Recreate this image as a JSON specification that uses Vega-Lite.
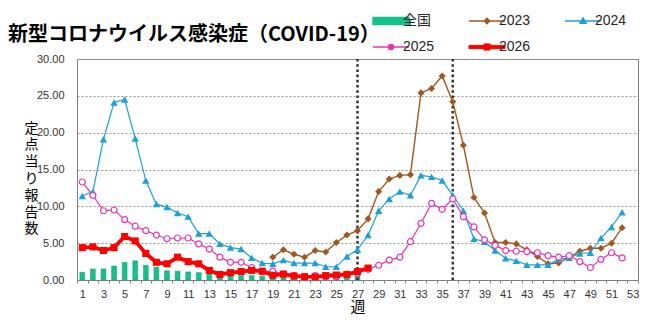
{
  "$schema": "https://vega.github.io/schema/vega-lite/v6.json",
  "width": 561,
  "height": 221,
  "autosize": {"type": "none"},
  "padding": {"left": 77, "top": 59, "right": 12, "bottom": 41},
  "background": "white",
  "title": {
    "text": "新型コロナウイルス感染症（COVID-19）",
    "anchor": "start",
    "frame": "group",
    "dx": -69,
    "dy": 41,
    "offset": 10,
    "font": "Noto Sans CJK JP",
    "fontSize": 20,
    "fontWeight": "bold",
    "color": "#000000"
  },
  "datasets": {
    "weekly": [
      {"week": 1, "series": "全国", "value": 1.05}, {"week": 2, "series": "全国", "value": 1.5}, {"week": 3, "series": "全国", "value": 1.5},
      {"week": 4, "series": "全国", "value": 1.9}, {"week": 5, "series": "全国", "value": 2.4}, {"week": 6, "series": "全国", "value": 2.6},
      {"week": 7, "series": "全国", "value": 2.0}, {"week": 8, "series": "全国", "value": 1.75}, {"week": 9, "series": "全国", "value": 1.25},
      {"week": 10, "series": "全国", "value": 1.2}, {"week": 11, "series": "全国", "value": 1.1}, {"week": 12, "series": "全国", "value": 1.0},
      {"week": 13, "series": "全国", "value": 0.82}, {"week": 14, "series": "全国", "value": 0.55}, {"week": 15, "series": "全国", "value": 0.55},
      {"week": 16, "series": "全国", "value": 0.62}, {"week": 17, "series": "全国", "value": 0.62}, {"week": 18, "series": "全国", "value": 0.5},
      {"week": 19, "series": "全国", "value": 0.32}, {"week": 20, "series": "全国", "value": 0.32}, {"week": 21, "series": "全国", "value": 0.25},
      {"week": 22, "series": "全国", "value": 0.2}, {"week": 23, "series": "全国", "value": 0.2}, {"week": 24, "series": "全国", "value": 0.25},
      {"week": 25, "series": "全国", "value": 0.3}, {"week": 26, "series": "全国", "value": 0.42}, {"week": 27, "series": "全国", "value": 0.52},

      {"week": 19, "series": "2023", "value": 3.1}, {"week": 20, "series": "2023", "value": 4.1}, {"week": 21, "series": "2023", "value": 3.5},
      {"week": 22, "series": "2023", "value": 3.1}, {"week": 23, "series": "2023", "value": 4.0}, {"week": 24, "series": "2023", "value": 3.8},
      {"week": 25, "series": "2023", "value": 5.1}, {"week": 26, "series": "2023", "value": 6.1}, {"week": 27, "series": "2023", "value": 6.7},
      {"week": 28, "series": "2023", "value": 8.3}, {"week": 29, "series": "2023", "value": 12.0}, {"week": 30, "series": "2023", "value": 13.7},
      {"week": 31, "series": "2023", "value": 14.2}, {"week": 32, "series": "2023", "value": 14.3}, {"week": 33, "series": "2023", "value": 25.4},
      {"week": 34, "series": "2023", "value": 26.0}, {"week": 35, "series": "2023", "value": 27.7}, {"week": 36, "series": "2023", "value": 24.2},
      {"week": 37, "series": "2023", "value": 18.3}, {"week": 38, "series": "2023", "value": 11.2}, {"week": 39, "series": "2023", "value": 9.1},
      {"week": 40, "series": "2023", "value": 5.1}, {"week": 41, "series": "2023", "value": 5.1}, {"week": 42, "series": "2023", "value": 4.9},
      {"week": 43, "series": "2023", "value": 4.1}, {"week": 44, "series": "2023", "value": 3.2}, {"week": 45, "series": "2023", "value": 2.2},
      {"week": 46, "series": "2023", "value": 2.3}, {"week": 47, "series": "2023", "value": 3.1}, {"week": 48, "series": "2023", "value": 3.9},
      {"week": 49, "series": "2023", "value": 4.3}, {"week": 50, "series": "2023", "value": 4.3}, {"week": 51, "series": "2023", "value": 5.0},
      {"week": 52, "series": "2023", "value": 7.1},

      {"week": 1, "series": "2024", "value": 11.4}, {"week": 2, "series": "2024", "value": 12.0}, {"week": 3, "series": "2024", "value": 19.1},
      {"week": 4, "series": "2024", "value": 24.1}, {"week": 5, "series": "2024", "value": 24.5}, {"week": 6, "series": "2024", "value": 19.2},
      {"week": 7, "series": "2024", "value": 13.5}, {"week": 8, "series": "2024", "value": 10.3}, {"week": 9, "series": "2024", "value": 9.9},
      {"week": 10, "series": "2024", "value": 9.1}, {"week": 11, "series": "2024", "value": 8.6}, {"week": 12, "series": "2024", "value": 6.3},
      {"week": 13, "series": "2024", "value": 6.3}, {"week": 14, "series": "2024", "value": 4.9}, {"week": 15, "series": "2024", "value": 4.4},
      {"week": 16, "series": "2024", "value": 4.2}, {"week": 17, "series": "2024", "value": 3.0}, {"week": 18, "series": "2024", "value": 2.3},
      {"week": 19, "series": "2024", "value": 2.2}, {"week": 20, "series": "2024", "value": 2.7}, {"week": 21, "series": "2024", "value": 2.3},
      {"week": 22, "series": "2024", "value": 2.3}, {"week": 23, "series": "2024", "value": 2.3}, {"week": 24, "series": "2024", "value": 1.8},
      {"week": 25, "series": "2024", "value": 1.8}, {"week": 26, "series": "2024", "value": 3.2}, {"week": 27, "series": "2024", "value": 4.1},
      {"week": 28, "series": "2024", "value": 6.1}, {"week": 29, "series": "2024", "value": 9.4}, {"week": 30, "series": "2024", "value": 11.0},
      {"week": 31, "series": "2024", "value": 12.0}, {"week": 32, "series": "2024", "value": 11.5}, {"week": 33, "series": "2024", "value": 14.2},
      {"week": 34, "series": "2024", "value": 14.0}, {"week": 35, "series": "2024", "value": 13.5}, {"week": 36, "series": "2024", "value": 11.5},
      {"week": 37, "series": "2024", "value": 9.4}, {"week": 38, "series": "2024", "value": 5.6}, {"week": 39, "series": "2024", "value": 5.2},
      {"week": 40, "series": "2024", "value": 4.0}, {"week": 41, "series": "2024", "value": 2.95}, {"week": 42, "series": "2024", "value": 2.6},
      {"week": 43, "series": "2024", "value": 2.05}, {"week": 44, "series": "2024", "value": 2.05}, {"week": 45, "series": "2024", "value": 2.05},
      {"week": 46, "series": "2024", "value": 2.8}, {"week": 47, "series": "2024", "value": 3.0}, {"week": 48, "series": "2024", "value": 3.6},
      {"week": 49, "series": "2024", "value": 3.7}, {"week": 50, "series": "2024", "value": 5.7}, {"week": 51, "series": "2024", "value": 7.2},
      {"week": 52, "series": "2024", "value": 9.2},

      {"week": 1, "series": "2025", "value": 13.3}, {"week": 2, "series": "2025", "value": 11.5}, {"week": 3, "series": "2025", "value": 9.4},
      {"week": 4, "series": "2025", "value": 9.5}, {"week": 5, "series": "2025", "value": 8.2}, {"week": 6, "series": "2025", "value": 7.3},
      {"week": 7, "series": "2025", "value": 6.7}, {"week": 8, "series": "2025", "value": 6.1}, {"week": 9, "series": "2025", "value": 5.6},
      {"week": 10, "series": "2025", "value": 5.7}, {"week": 11, "series": "2025", "value": 5.7}, {"week": 12, "series": "2025", "value": 4.9},
      {"week": 13, "series": "2025", "value": 4.2}, {"week": 14, "series": "2025", "value": 3.1}, {"week": 15, "series": "2025", "value": 2.4},
      {"week": 16, "series": "2025", "value": 2.4}, {"week": 17, "series": "2025", "value": 1.7}, {"week": 18, "series": "2025", "value": 1.1},
      {"week": 19, "series": "2025", "value": 1.2}, {"week": 20, "series": "2025", "value": 0.8}, {"week": 21, "series": "2025", "value": 0.6},
      {"week": 22, "series": "2025", "value": 0.4}, {"week": 23, "series": "2025", "value": 0.6}, {"week": 24, "series": "2025", "value": 0.45},
      {"week": 25, "series": "2025", "value": 0.45}, {"week": 26, "series": "2025", "value": 0.7}, {"week": 27, "series": "2025", "value": 0.9},
      {"week": 28, "series": "2025", "value": 1.45}, {"week": 29, "series": "2025", "value": 2.0}, {"week": 30, "series": "2025", "value": 2.7},
      {"week": 31, "series": "2025", "value": 3.1}, {"week": 32, "series": "2025", "value": 5.2}, {"week": 33, "series": "2025", "value": 7.7},
      {"week": 34, "series": "2025", "value": 10.4}, {"week": 35, "series": "2025", "value": 9.6}, {"week": 36, "series": "2025", "value": 11.0},
      {"week": 37, "series": "2025", "value": 8.6}, {"week": 38, "series": "2025", "value": 7.2}, {"week": 39, "series": "2025", "value": 5.45},
      {"week": 40, "series": "2025", "value": 4.7}, {"week": 41, "series": "2025", "value": 4.0}, {"week": 42, "series": "2025", "value": 3.9},
      {"week": 43, "series": "2025", "value": 3.85}, {"week": 44, "series": "2025", "value": 3.7}, {"week": 45, "series": "2025", "value": 3.3},
      {"week": 46, "series": "2025", "value": 3.1}, {"week": 47, "series": "2025", "value": 3.3}, {"week": 48, "series": "2025", "value": 2.5},
      {"week": 49, "series": "2025", "value": 1.7}, {"week": 50, "series": "2025", "value": 2.8}, {"week": 51, "series": "2025", "value": 3.7},
      {"week": 52, "series": "2025", "value": 3.0},

      {"week": 1, "series": "2026", "value": 4.4}, {"week": 2, "series": "2026", "value": 4.5}, {"week": 3, "series": "2026", "value": 4.0},
      {"week": 4, "series": "2026", "value": 4.4}, {"week": 5, "series": "2026", "value": 5.9}, {"week": 6, "series": "2026", "value": 5.3},
      {"week": 7, "series": "2026", "value": 3.6}, {"week": 8, "series": "2026", "value": 2.4}, {"week": 9, "series": "2026", "value": 2.2},
      {"week": 10, "series": "2026", "value": 3.1}, {"week": 11, "series": "2026", "value": 2.5}, {"week": 12, "series": "2026", "value": 2.2},
      {"week": 13, "series": "2026", "value": 1.3}, {"week": 14, "series": "2026", "value": 0.75}, {"week": 15, "series": "2026", "value": 1.0},
      {"week": 16, "series": "2026", "value": 1.15}, {"week": 17, "series": "2026", "value": 1.3}, {"week": 18, "series": "2026", "value": 1.2},
      {"week": 19, "series": "2026", "value": 0.65}, {"week": 20, "series": "2026", "value": 0.8}, {"week": 21, "series": "2026", "value": 0.55},
      {"week": 22, "series": "2026", "value": 0.45}, {"week": 23, "series": "2026", "value": 0.42}, {"week": 24, "series": "2026", "value": 0.6},
      {"week": 25, "series": "2026", "value": 0.68}, {"week": 26, "series": "2026", "value": 0.75}, {"week": 27, "series": "2026", "value": 1.15},
      {"week": 28, "series": "2026", "value": 1.62}
    ],
    "season_marks": [{"week": 27}, {"week": 36}]
  },
  "encoding": {
    "x": {
      "field": "week",
      "type": "ordinal",
      "scale": {
        "type": "band",
        "domain": [1, 2, 3, 4, 5, 6, 7, 8, 9, 10, 11, 12, 13, 14, 15, 16, 17, 18, 19, 20, 21, 22, 23, 24, 25, 26, 27,
                   28, 29, 30, 31, 32, 33, 34, 35, 36, 37, 38, 39, 40, 41, 42, 43, 44, 45, 46, 47, 48, 49, 50, 51, 52, 53],
        "paddingInner": 0,
        "paddingOuter": 0
      },
      "axis": {
        "title": "週",
        "titleFont": "Noto Sans CJK JP",
        "titleFontSize": 15,
        "titleFontWeight": "normal",
        "titleColor": "#000000",
        "titlePadding": 0,
        "labelAngle": 0,
        "labelExpr": "datum.value % 2 === 1 ? datum.label : ''",
        "labelOverlap": false,
        "labelFont": "Liberation Sans",
        "labelFontSize": 11,
        "labelColor": "#333333",
        "labelPadding": 5,
        "domainColor": "#808080",
        "tickColor": "#808080",
        "tickSize": 3,
        "tickBand": "extent",
        "grid": false
      }
    },
    "y": {
      "field": "value",
      "type": "quantitative",
      "scale": {"domain": [0, 30], "nice": false, "zero": true},
      "axis": {
        "values": [0, 5, 10, 15, 20, 25, 30],
        "format": ".2f",
        "title": ["定", "点", "当", "り", "報", "告", "数"],
        "titleAngle": 0,
        "titleFont": "Noto Sans CJK JP",
        "titleFontSize": 14,
        "titleFontWeight": "normal",
        "titleColor": "#000000",
        "titleLineHeight": 16.8,
        "titleAlign": "center",
        "titleBaseline": "top",
        "titleX": -46,
        "titleY": 62,
        "labelFont": "Liberation Sans",
        "labelFontSize": 11,
        "labelColor": "#333333",
        "labelPadding": 13,
        "ticks": false,
        "domainColor": "#808080",
        "grid": true,
        "gridColor": "#999999",
        "gridDash": [2, 2],
        "gridWidth": 1
      }
    },
    "color": {
      "field": "series",
      "type": "nominal",
      "scale": {
        "domain": ["全国", "2023", "2024", "2025", "2026"],
        "range": ["#14C18C", "#A0581E", "#1CA0D8", "#E633B5", "#FF0000"]
      },
      "legend": {
        "title": null,
        "orient": "none",
        "direction": "horizontal",
        "legendX": 307,
        "legendY": -45,
        "columns": 3,
        "gridAlign": "all",
        "columnPadding": 31,
        "rowPadding": 12,
        "symbolSize": 1296,
        "labelOffset": 5,
        "labelFont": "Liberation Sans, Noto Sans CJK JP",
        "labelFontSize": 14,
        "labelColor": "#262626",
        "encode": {
          "symbols": {
            "update": {
              "shape": {"signal": "datum.value === '全国' ? 'M-1,-0.2H1V0.2H-1Z' : datum.value === '2023' ? 'M-1,0H1M0,-0.15L0.15,0L0,0.15L-0.15,0Z' : datum.value === '2024' ? 'M-1,0H1M0,-0.17L0.17,0.13L-0.17,0.13Z' : datum.value === '2025' ? 'M-1,0H-0.14M0.14,0H1M-0.14,0A0.14,0.14,0,1,0,0.14,0A0.14,0.14,0,1,0,-0.14,0Z' : 'M-1,-0.09H1V0.09H-1ZM-0.17,-0.17H0.17V0.17H-0.17Z'"},
              "fill": {"signal": "datum.value === '2025' ? '#FFFFFF' : scale('color', datum.value)"},
              "stroke": {"signal": "scale('color', datum.value)"},
              "strokeWidth": {"signal": "datum.value === '2026' ? 1 : 1.4"},
              "opacity": {"value": 1}
            }
          }
        }
      }
    }
  },
  "layer": [
    {
      "data": {"name": "weekly"},
      "transform": [{"filter": "datum.series === '全国'"}],
      "mark": {"type": "bar", "width": {"band": 0.46}, "stroke": "#0E9E72", "strokeWidth": 0.5}
    },
    {
      "data": {"name": "season_marks"},
      "mark": {"type": "rule", "color": "#333333", "strokeWidth": 2.5, "strokeDash": [2.6, 2.6]},
      "encoding": {"y": null, "color": null}
    },
    {
      "data": {"name": "weekly"},
      "transform": [{"filter": "datum.series === '2023'"}],
      "mark": {"type": "line", "strokeWidth": 1.4, "point": {"shape": "diamond", "filled": true, "size": 50}}
    },
    {
      "data": {"name": "weekly"},
      "transform": [{"filter": "datum.series === '2024'"}],
      "mark": {"type": "line", "strokeWidth": 1.2, "point": {"shape": "triangle-up", "filled": true, "size": 55}}
    },
    {
      "data": {"name": "weekly"},
      "transform": [{"filter": "datum.series === '2025'"}],
      "mark": {"type": "line", "strokeWidth": 1.2}
    },
    {
      "data": {"name": "weekly"},
      "transform": [{"filter": "datum.series === '2025'"}],
      "mark": {"type": "point", "shape": "circle", "filled": false, "fill": "#FFFFFF", "fillOpacity": 1, "opacity": 1, "size": 36, "strokeWidth": 1.2}
    },
    {
      "data": {"name": "weekly"},
      "transform": [{"filter": "datum.series === '2026'"}],
      "mark": {"type": "line", "strokeWidth": 3.8, "point": {"shape": "square", "filled": true, "size": 50}}
    }
  ],
  "config": {
    "view": {"stroke": "#808080", "strokeWidth": 1}
  }
}
